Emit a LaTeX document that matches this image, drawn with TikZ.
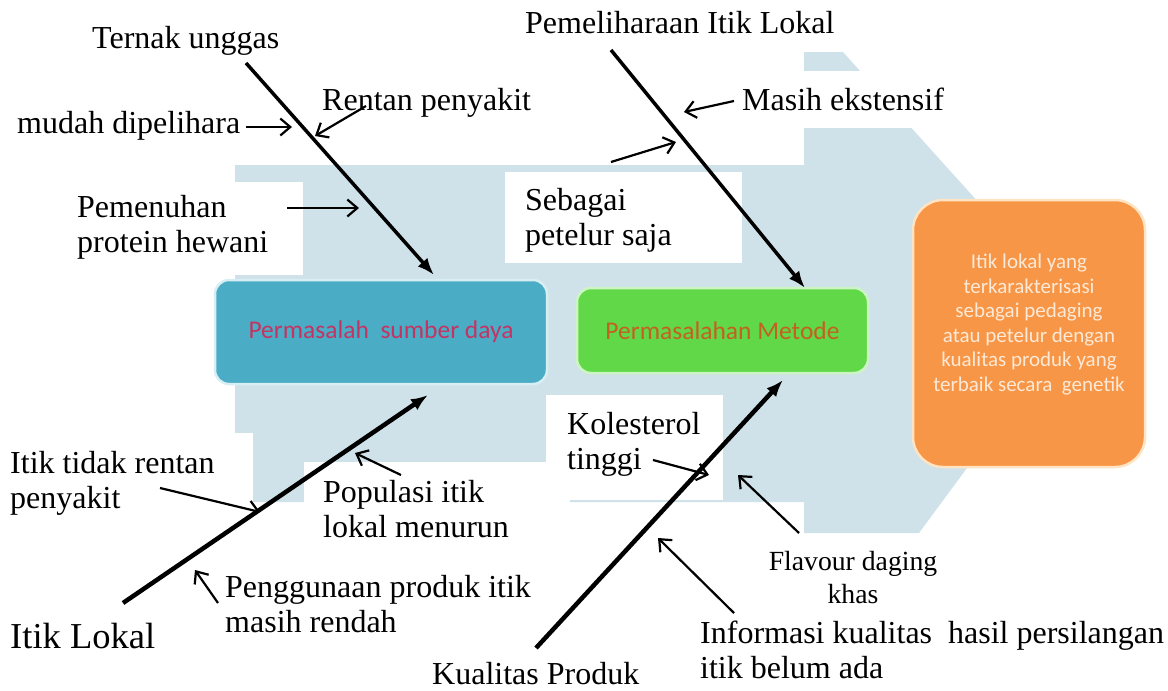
\documentclass[tikz,border=0pt]{standalone}
\usepackage{fontspec}
\setmainfont{Liberation Serif}
\newfontfamily\calib{Carlito}
\usetikzlibrary{arrows.meta}
\definecolor{bgblue}{RGB}{208,226,233}
\definecolor{sdblue}{RGB}{75,172,198}
\definecolor{sdborder}{RGB}{215,238,244}
\definecolor{sdtext}{RGB}{196,52,98}
\definecolor{metgreen}{RGB}{96,216,72}
\definecolor{metborder}{RGB}{205,245,195}
\definecolor{mettext}{RGB}{196,96,32}
\definecolor{goalorange}{RGB}{247,150,70}
\definecolor{goalborder}{RGB}{255,228,195}
\definecolor{goaltext}{RGB}{253,233,215}
\newcommand\twol[2]{\vtop{\hbox{#1}\hbox{#2}}}
\newcommand\cstack[1]{\vbox{\halign{\hfil##\hfil\cr#1\crcr}}}
\begin{document}
\begin{tikzpicture}[x=1pt,y=-1pt,
  lbl/.style={inner sep=0pt, anchor=base west, font=\fontsize{32}{35.5}\selectfont},
  thinarrow/.style={line width=2.2pt, -{Straight Barb[length=10pt,width=17pt]}},
  spine/.style={-{Latex[length=17pt,width=13pt]}},
  procbox/.style={rounded corners=14pt, line width=2.5pt, inner sep=0pt,
    font=\calib\fontsize{25.5}{30}\selectfont}]
\useasboundingbox (0,0) rectangle (1168,691);
% background arrow shape
\fill[bgblue] (235,165) -- (804,165) -- (804,52) -- (843,52) -- (1080,315)
  -- (919,533) -- (804,533) -- (804,502) -- (235,502) -- cycle;
% white text backgrounds
\fill[white] (730,71) rectangle (1000,128);
\fill[white] (60,182) rectangle (303,275);
\fill[white] (505,172) rectangle (742,263);
\fill[white] (0,433) rectangle (253,691);
\fill[white] (304,462) rectangle (570,691);
\fill[white] (546,395) rectangle (723,500);
% boxes
\node[procbox, fill=sdblue, draw=sdborder, minimum width=332pt, minimum height=104pt,
  text=sdtext] (box_sd) at (381,332) {Permasalah\ \ sumber daya};
\node[procbox, fill=metgreen, draw=metborder, minimum width=291pt, minimum height=85pt,
  text=mettext] (box_met) at (722.5,330.5) {Permasalahan Metode};
\node[procbox, fill=goalorange, draw=goalborder, minimum width=232pt, minimum height=267pt,
  rounded corners=30pt, text=goaltext, font=\calib\fontsize{21}{24.5}\selectfont]
  (box_goal) at (1029,333.5)
  {\raisebox{9pt}[\height][\depth]{\cstack{Itik lokal yang\cr terkarakterisasi\cr sebagai pedaging\cr atau petelur dengan\cr kualitas produk yang\cr terbaik secara\ \ genetik}}};
% labels
\node[lbl] (t_ternak) at (92,48) {Ternak unggas};
\node[lbl] (t_pemel) at (525,33) {Pemeliharaan Itik Lokal};
\node[lbl] (t_rentan) at (322,110) {Rentan penyakit};
\node[lbl] (t_mudah) at (17,133) {mudah dipelihara};
\node[lbl] (t_masih) at (742,110) {Masih ekstensif};
\node[lbl] (t_pemen) at (77,217) {\twol{Pemenuhan}{protein hewani}};
\node[lbl] (t_sebagai) at (525,210) {\twol{Sebagai}{petelur saja}};
\node[lbl] (t_kol) at (567,434) {\twol{Kolesterol}{tinggi}};
\node[lbl] (t_itr) at (10,473) {\twol{Itik tidak rentan}{penyakit}};
\node[lbl] (t_pop) at (323,502) {\twol{Populasi itik}{lokal menurun}};
\node[lbl] (t_pengg) at (225,597) {\twol{Penggunaan produk itik}{masih rendah}};
\node[lbl, font=\fontsize{36.5}{40}\selectfont] (t_itik) at (10,648) {Itik Lokal};
\node[lbl] (t_kual) at (432,684) {Kualitas Produk};
\node[lbl, anchor=base, font=\fontsize{27.7}{33}\selectfont] (t_flav) at (853,603)
  {\cstack{Flavour daging\cr khas}};
\node[lbl] (t_info) at (700,643) {\twol{Informasi kualitas\ \ hasil persilangan}{itik belum ada}};
% spine coordinates
\coordinate (s_ternak) at (246,63);  \coordinate (e_ternak) at (434,275);
\coordinate (s_pemel) at (611,50);   \coordinate (e_pemel) at (805,288);
\coordinate (s_itik) at (123,603);   \coordinate (e_itik) at (428,395);
\coordinate (s_kual) at (536,648);   \coordinate (e_kual) at (783,380);
\draw[spine, line width=3.5pt] (s_ternak) -- (e_ternak);
\draw[spine, line width=3.5pt] (s_pemel) -- (e_pemel);
\draw[spine, line width=4.5pt] (s_itik) -- (e_itik);
\draw[spine, line width=4.5pt] (s_kual) -- (e_kual);
% cause arrows
\coordinate (a_mudah_s) at (246,127);   \coordinate (a_mudah_e) at (292,127);
\coordinate (a_rent_s) at (366,106);    \coordinate (a_rent_e) at (315,136);
\coordinate (a_pemen_s) at (287,208);   \coordinate (a_pemen_e) at (359,208);
\coordinate (a_masih_s) at (734,101);   \coordinate (a_masih_e) at (684,112);
\coordinate (a_seb_s) at (611,162);     \coordinate (a_seb_e) at (676,142);
\coordinate (a_itr_s) at (160,488);     \coordinate (a_itr_e) at (260,512);
\coordinate (a_pop_s) at (401,475);     \coordinate (a_pop_e) at (355,453);
\coordinate (a_pen_s) at (218,603);     \coordinate (a_pen_e) at (195,570);
\coordinate (a_kol_s) at (653,460);     \coordinate (a_kol_e) at (709,475);
\coordinate (a_flav_s) at (799,533);    \coordinate (a_flav_e) at (738,475);
\coordinate (a_info_s) at (734,613);    \coordinate (a_info_e) at (658,538);
\foreach \n in {mudah,rent,pemen,masih,seb,itr,pop,pen,kol,flav,info}
  \draw[thinarrow] (a_\n_s) -- (a_\n_e);
\end{tikzpicture}
\end{document}
